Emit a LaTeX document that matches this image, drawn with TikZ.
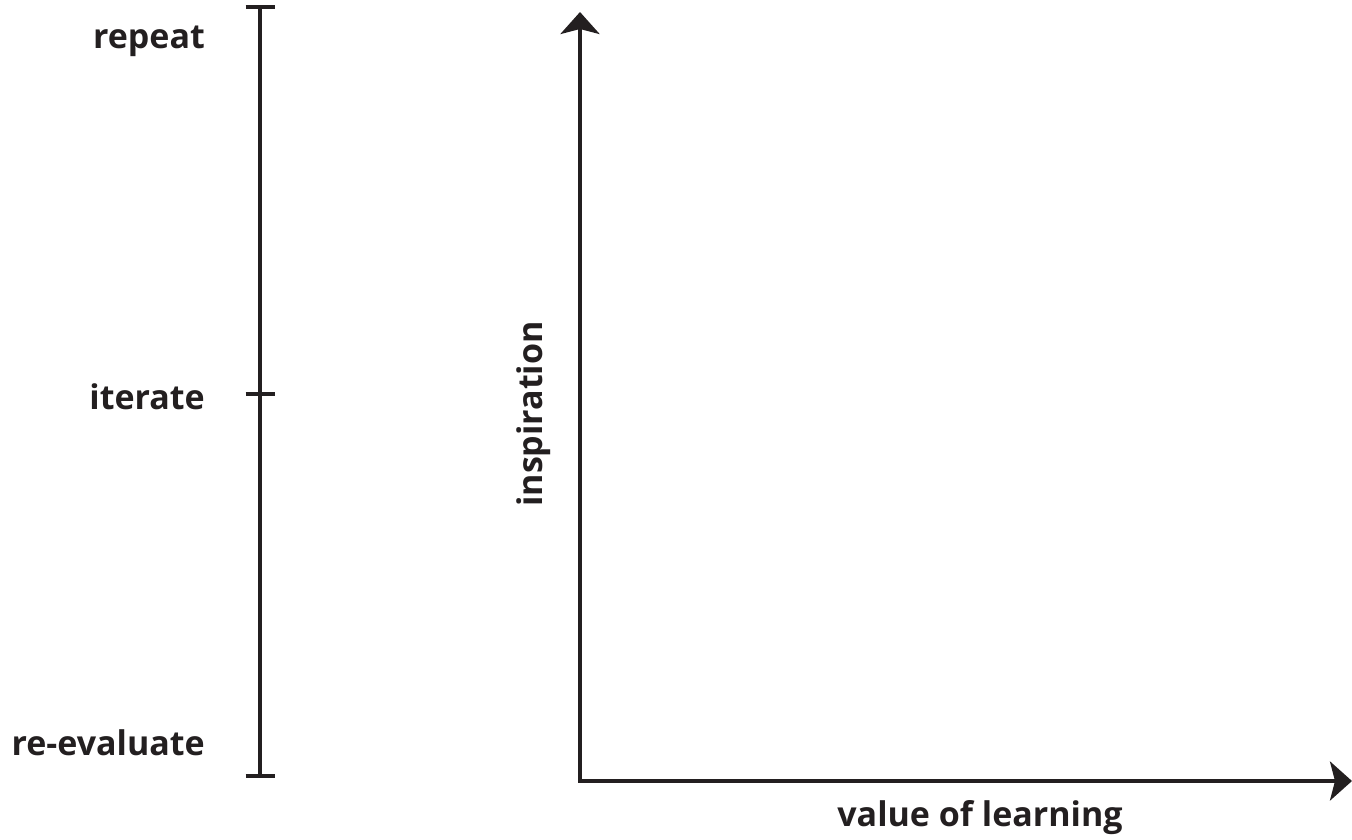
\documentclass[tikz,border=0pt]{standalone}
\usepackage{fontspec}
\setmainfont{Open Sans}
\usetikzlibrary{arrows.meta}
\definecolor{ink}{HTML}{231F20}
\begin{document}
\begin{tikzpicture}[x=1pt,y=-1pt,
  axisline/.style={draw=ink,line width=4pt},
  axisarrow/.style={axisline,-{Stealth[length=22pt,width=39pt,inset=5pt]}},
  ticklabel/.style={font=\fontsize{34}{38}\selectfont\bfseries,text=ink,inner sep=0pt,anchor=base east},
  axislabel/.style={font=\fontsize{34}{38}\selectfont\bfseries,text=ink,inner sep=0pt,anchor=base}]
\useasboundingbox (0,0) rectangle (1352,839);
% scale on the left
\coordinate (stop) at (260,7);
\coordinate (smid) at (260,394);
\coordinate (sbot) at (260,776);
\draw[axisline] (stop) -- (sbot);
\draw[axisline] ([xshift=-14.5pt]stop) -- ([xshift=14.5pt]stop);
\draw[axisline] ([xshift=-14.5pt]smid) -- ([xshift=14.5pt]smid);
\draw[axisline] ([xshift=-14.5pt]sbot) -- ([xshift=14.5pt]sbot);
\node[ticklabel] (repeat) at (205,48) {repeat};
\node[ticklabel] (iterate) at (205,409) {iterate};
\node[ticklabel] (reeval) at (205,755) {re-evaluate};
% axes
\coordinate (origin) at (580,781);
\coordinate (ytip) at (580,12);
\coordinate (xtip) at (1352,781);
\draw[axisarrow] ([xshift=-2pt]origin) -- (xtip);
\draw[axisarrow] ([yshift=2pt]origin) -- (ytip);
\node[axislabel,rotate=90] (inspiration) at (542,414) {inspiration};
\node[axislabel] (value) at (980,826) {value of learning};
\end{tikzpicture}
\end{document}
